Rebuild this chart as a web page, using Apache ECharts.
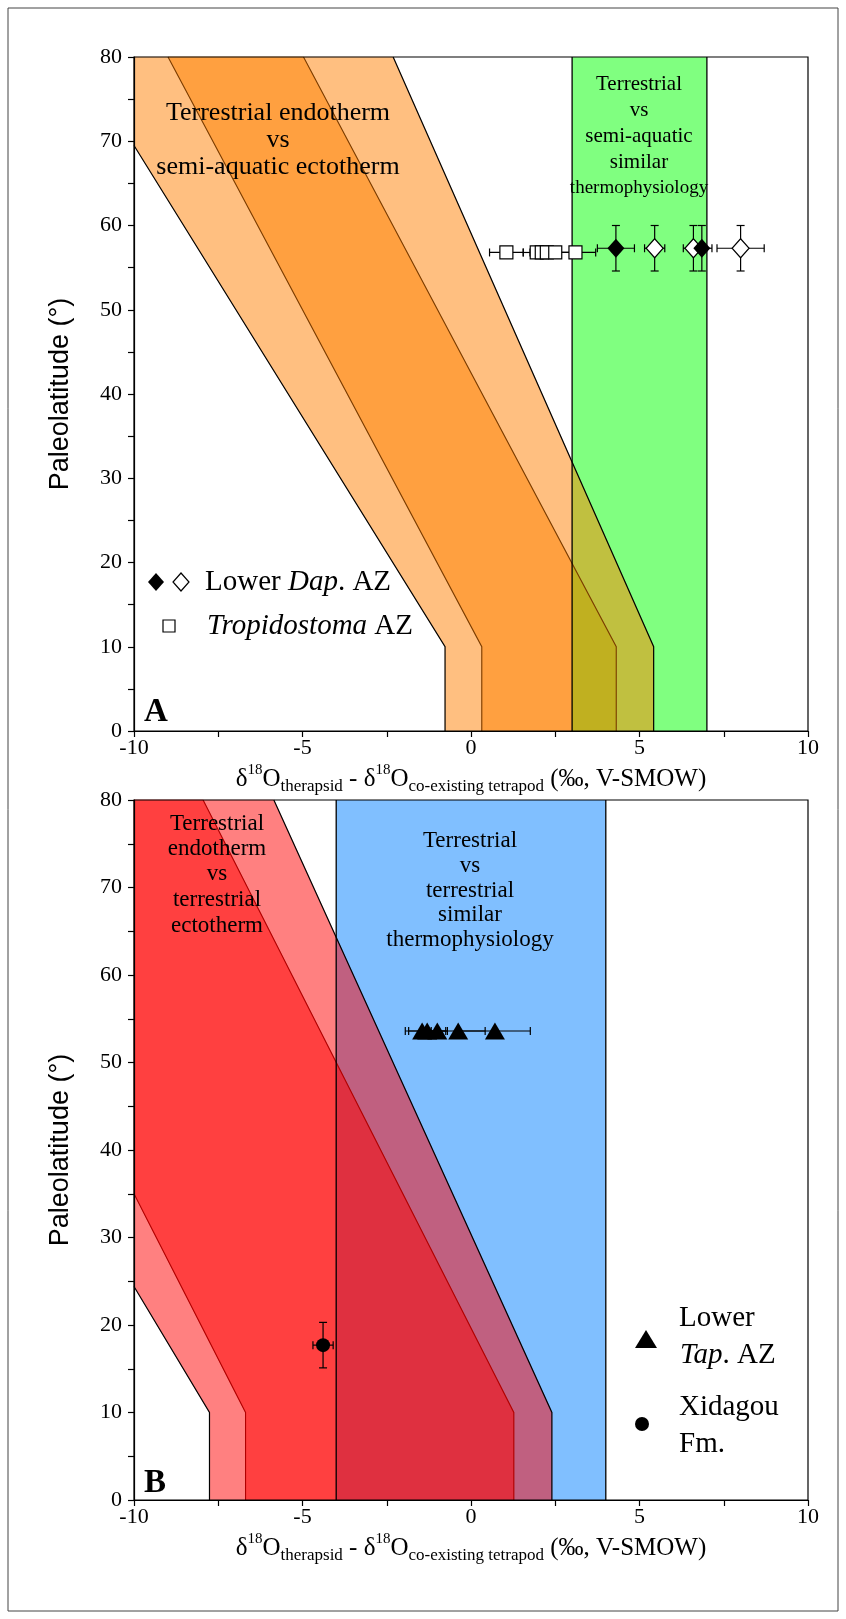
<!DOCTYPE html>
<html><head><meta charset="utf-8">
<script src="https://cdn.jsdelivr.net/npm/echarts@6/dist/echarts.min.js"></script>
<style>html,body{margin:0;padding:0;background:#fff}#c{width:846px;height:1619px}</style>
</head><body><div id="c"></div>
<script>
// ---------- axis settings ----------
const xMin = -10, xMax = 10, xStep = 5;
const yMin = 0, yMax = 80, yStep = 10;

// ---------- Panel A: bands (data coords: [offset ‰, latitude °]) ----------
const outerBandA = [[-10,80],[-10,69.5],[-0.77,10],[-0.77,0],[5.42,0],[5.42,10],[-2.31,80]];
const innerBandA = [[-8.99,80],[0.32,10],[0.32,0],[4.31,0],[4.31,10],[-4.97,80]];
const outerLinesA = [[[-10,69.5],[-0.77,10],[-0.77,0]], [[-2.31,80],[5.42,10],[5.42,0]]];
const innerLinesA = [[[-8.99,80],[0.32,10],[0.32,0]], [[-4.97,80],[4.31,10],[4.31,0]]];
const similarRangeA = [3, 7];

// ---------- Panel B: bands ----------
const outerBandB = [[-10,80],[-10,24.4],[-7.76,10],[-7.76,0],[2.40,0],[2.40,10],[-5.85,80]];
const innerBandB = [[-10,80],[-10,35],[-6.69,10],[-6.69,0],[1.27,0],[1.27,10],[-7.95,80]];
const outerLinesB = [[[-10,24.4],[-7.76,10],[-7.76,0]], [[-5.85,80],[2.40,10],[2.40,0]]];
const innerLinesB = [[[-10,35],[-6.69,10],[-6.69,0]], [[-7.95,80],[1.27,10],[1.27,0]]];
const similarRangeB = [-4, 4];

// ---------- Panel A points ----------
const dapFilledX = [4.30, 6.85];
const dapFilledY = [57.3, 57.3];
const dapFilledXErr = [0.55, 0.30];
const dapFilledYErr = [2.7, 2.7];
const dapOpenX = [5.45, 6.60, 8.00];
const dapOpenY = [57.3, 57.3, 57.3];
const dapOpenXErr = [0.30, 0.30, 0.70];
const dapOpenYErr = [2.7, 2.7, 2.7];
const tropX = [1.05, 1.95, 2.10, 2.25, 2.50, 3.10];
const tropY = [56.8, 56.8, 56.8, 56.8, 56.8, 56.8];
const tropXErr = [0.50, 0.40, 0.35, 0.30, 0.50, 0.60];

// ---------- Panel B points ----------
const tapX = [-1.45, -1.30, -1.00, -0.38, 0.71];
const tapY = [53.6, 53.6, 53.6, 53.6, 53.6];
const tapXErr = [0.50, 0.55, 0.30, 0.80, 1.05];
const xidX = [-4.39];
const xidY = [17.7];
const xidXErr = [0.30];
const xidYErr = [2.6];

// ---------- helpers ----------
function zipPts(xs, ys, xe, ye) {
  return xs.map((x, i) => [x, ys[i], xe ? xe[i] : 0, ye ? ye[i] : 0]);
}
function clipHalf(poly, inside, inter) {
  const res = [];
  for (let i = 0; i < poly.length; i++) {
    const cur = poly[i], prev = poly[(i + poly.length - 1) % poly.length];
    const ci = inside(cur), pi = inside(prev);
    if (ci) { if (!pi) res.push(inter(prev, cur)); res.push(cur); }
    else if (pi) res.push(inter(prev, cur));
  }
  return res;
}
function atX(a, b, x) { const t = (x - a[0]) / (b[0] - a[0]); return [x, a[1] + t * (b[1] - a[1])]; }
function clipX(poly, lo, hi) {
  let p = clipHalf(poly, q => q[0] >= lo, (a, b) => atX(a, b, lo));
  if (p.length) p = clipHalf(p, q => q[0] <= hi, (a, b) => atX(a, b, hi));
  return p;
}
function bandRenderer(cfg) {
  return function (params, api) {
    const px = pts => pts.map(p => api.coord(p));
    const ch = [];
    const [a, b] = cfg.range;
    ch.push({type:'polygon', shape:{points: px([[a,yMin],[a,yMax],[b,yMax],[b,yMin]])}, style:{fill: cfg.rangeColor}});
    [[cfg.outer, cfg.outerColor, cfg.outerOverlap], [cfg.inner, cfg.innerColor, cfg.innerOverlap]].forEach(([poly, c, oc]) => {
      const l = clipX(poly, -1e9, a), m = clipX(poly, a, b), r = clipX(poly, b, 1e9);
      [l, r].forEach(p => { if (p.length > 2) ch.push({type:'polygon', shape:{points: px(p)}, style:{fill: c, stroke: c, lineWidth: 0.5}}); });
      if (m.length > 2) ch.push({type:'polygon', shape:{points: px(m)}, style:{fill: oc, stroke: oc, lineWidth: 0.5}});
    });
    cfg.innerLines.forEach(l => ch.push({type:'polyline', shape:{points: px(l)}, style:{stroke: cfg.innerLineColor, lineWidth: 1.1, fill: null}}));
    cfg.outerLines.forEach(l => ch.push({type:'polyline', shape:{points: px(l)}, style:{stroke: '#000', lineWidth: 1.2, fill: null}}));
    [a, b].forEach(x => {
      const p1 = api.coord([x, yMin]), p2 = api.coord([x, yMax]);
      ch.push({type:'line', shape:{x1:p1[0], y1:p1[1], x2:p2[0], y2:p2[1]}, style:{stroke:'#000', lineWidth:1.3}});
    });
    return {type:'group', children: ch};
  };
}
function errRenderer(params, api) {
  const x = api.value(0), y = api.value(1), xe = api.value(2), ye = api.value(3);
  const ch = [], cap = 4;
  const st = {stroke:'#000', lineWidth:1.2};
  if (xe > 0) {
    const l = api.coord([x - xe, y]), r = api.coord([x + xe, y]);
    ch.push({type:'line', shape:{x1:l[0], y1:l[1], x2:r[0], y2:r[1]}, style: st});
    ch.push({type:'line', shape:{x1:l[0], y1:l[1]-cap, x2:l[0], y2:l[1]+cap}, style: st});
    ch.push({type:'line', shape:{x1:r[0], y1:r[1]-cap, x2:r[0], y2:r[1]+cap}, style: st});
  }
  if (ye > 0) {
    const t = api.coord([x, y + ye]), b = api.coord([x, y - ye]);
    ch.push({type:'line', shape:{x1:t[0], y1:t[1], x2:b[0], y2:b[1]}, style: st});
    ch.push({type:'line', shape:{x1:t[0]-cap, y1:t[1], x2:t[0]+cap, y2:t[1]}, style: st});
    ch.push({type:'line', shape:{x1:b[0]-cap, y1:b[1], x2:b[0]+cap, y2:b[1]}, style: st});
  }
  return {type:'group', children: ch};
}

const SERIF = 'Liberation Serif';
const SANS = 'Liberation Sans';
const tickFont = {fontFamily: SERIF, fontSize: 22, color: '#000'};

function makeX(gi) {
  return {gridIndex: gi, type:'value', min:xMin, max:xMax, interval:xStep, z: 10,
    axisLine:{show:true, onZero:false, lineStyle:{color:'#000', width:1.2}},
    axisTick:{show:true, inside:false, length:6, lineStyle:{color:'#000', width:1.2}},
    minorTick:{show:true, splitNumber:2, length:6, lineStyle:{color:'#000', width:1.2}},
    axisLabel:{...tickFont, margin:6},
    splitLine:{show:false}};
}
function makeY(gi) {
  return {gridIndex: gi, type:'value', min:yMin, max:yMax, interval:yStep, z: 10,
    name:'Paleolatitude (°)', nameLocation:'middle', nameGap:60, nameRotate:90,
    nameTextStyle:{fontFamily: SANS, fontSize: 27, color:'#000'},
    axisLine:{show:true, onZero:false, lineStyle:{color:'#000', width:1.2}},
    axisTick:{show:true, inside:false, length:6, lineStyle:{color:'#000', width:1.2}},
    minorTick:{show:true, splitNumber:2, length:6, lineStyle:{color:'#000', width:1.2}},
    axisLabel:{...tickFont, margin:12},
    splitLine:{show:false}};
}

const xTitleRich = {
  sup: {fontFamily: SERIF, fontSize: 15, verticalAlign: 'top', lineHeight: 32, fill:'#000'},
  sub: {fontFamily: SERIF, fontSize: 17, verticalAlign: 'bottom', lineHeight: 32, fill:'#000'},
  n: {fontFamily: SERIF, fontSize: 25, lineHeight: 32, fill:'#000'}
};
const xTitle = '{n|δ}{sup|18}{n|O}{sub|therapsid}{n| - δ}{sup|18}{n|O}{sub|co-existing tetrapod}{n| (‰, V-SMOW)}';

function txt(x, y, text, opts) {
  return {type:'text', x, y, z: 20, style: Object.assign({text, fontFamily: SERIF, fontSize: 23, fill:'#000', align:'center', verticalAlign:'middle'}, opts || {})};
}
const legRich = {n:{fontFamily:SERIF, fontSize:29, fill:'#000'}, i:{fontFamily:SERIF, fontSize:29, fontStyle:'italic', fill:'#000'}};

const chart = echarts.init(document.getElementById('c'), null, {renderer:'canvas'});
chart.setOption({
  animation: false,
  backgroundColor: '#fff',
  grid: [
    {left:134, top:57, width:674, height:674, show:true, borderColor:'#000', borderWidth:1.2, backgroundColor:'transparent', z:10},
    {left:134, top:800, width:674, height:700, show:true, borderColor:'#000', borderWidth:1.2, backgroundColor:'transparent', z:10}
  ],
  xAxis: [makeX(0), makeX(1)],
  yAxis: [makeY(0), makeY(1)],
  series: [
    {type:'custom', xAxisIndex:0, yAxisIndex:0, z:1, silent:true, data:[[0,0]],
      renderItem: bandRenderer({range: similarRangeA, rangeColor:'#80FF80',
        outer: outerBandA, outerColor:'#FFBF80', outerOverlap:'#C0C040',
        inner: innerBandA, innerColor:'#FFA040', innerOverlap:'#C0B020',
        outerLines: outerLinesA, innerLines: innerLinesA, innerLineColor:'#7A3C00'})},
    {type:'custom', xAxisIndex:1, yAxisIndex:1, z:1, silent:true, data:[[0,0]],
      renderItem: bandRenderer({range: similarRangeB, rangeColor:'#80BFFF',
        outer: outerBandB, outerColor:'#FF8080', outerOverlap:'#C06080',
        inner: innerBandB, innerColor:'#FF4040', innerOverlap:'#DF3040',
        outerLines: outerLinesB, innerLines: innerLinesB, innerLineColor:'#B00000'})},
    {type:'custom', xAxisIndex:0, yAxisIndex:0, z:3, silent:true, renderItem: errRenderer,
      data: zipPts(tropX, tropY, tropXErr, null).concat(zipPts(dapFilledX, dapFilledY, dapFilledXErr, dapFilledYErr), zipPts(dapOpenX, dapOpenY, dapOpenXErr, dapOpenYErr))},
    {type:'custom', xAxisIndex:1, yAxisIndex:1, z:3, silent:true, renderItem: errRenderer,
      data: zipPts(tapX, tapY, tapXErr, null).concat(zipPts(xidX, xidY, xidXErr, xidYErr))},
    {type:'scatter', name:'Tropidostoma AZ', xAxisIndex:0, yAxisIndex:0, z:4, symbol:'rect', symbolSize:13,
      itemStyle:{color:'#fff', borderColor:'#000', borderWidth:1.2, opacity:1}, data: tropX.map((x,i)=>[x, tropY[i]])},
    {type:'scatter', name:'Lower Dap. AZ (open)', xAxisIndex:0, yAxisIndex:0, z:4, symbol:'diamond', symbolSize:[17,19],
      itemStyle:{color:'#fff', borderColor:'#000', borderWidth:1.2, opacity:1}, data: dapOpenX.map((x,i)=>[x, dapOpenY[i]])},
    {type:'scatter', name:'Lower Dap. AZ (filled)', xAxisIndex:0, yAxisIndex:0, z:4, symbol:'diamond', symbolSize:[17,19],
      itemStyle:{color:'#000', opacity:1}, data: dapFilledX.map((x,i)=>[x, dapFilledY[i]])},
    {type:'scatter', name:'Lower Tap. AZ', xAxisIndex:1, yAxisIndex:1, z:4, symbol:'triangle', symbolSize:[20,17],
      itemStyle:{color:'#000', opacity:1}, data: tapX.map((x,i)=>[x, tapY[i]])},
    {type:'scatter', name:'Xidagou Fm.', xAxisIndex:1, yAxisIndex:1, z:4, symbol:'circle', symbolSize:14,
      itemStyle:{color:'#000', opacity:1}, data: xidX.map((x,i)=>[x, xidY[i]])}
  ],
  graphic: [
    {type:'rect', z:0, shape:{x:8, y:8, width:830, height:1603}, style:{fill:null, stroke:'#444', lineWidth:1}},
    // x axis titles
    {type:'text', x:471, y:779, z:20, style:{text: xTitle, rich: xTitleRich, align:'center', verticalAlign:'middle'}},
    {type:'text', x:471, y:1548, z:20, style:{text: xTitle, rich: xTitleRich, align:'center', verticalAlign:'middle'}},
    // panel A annotations
    txt(278, 113, 'Terrestrial endotherm', {fontSize:26}),
    txt(278, 140, 'vs', {fontSize:26}),
    txt(278, 167, 'semi-aquatic ectotherm', {fontSize:26}),
    txt(639, 84, 'Terrestrial', {fontSize:21}),
    txt(639, 110, 'vs', {fontSize:21}),
    txt(639, 136, 'semi-aquatic', {fontSize:21}),
    txt(639, 162, 'similar', {fontSize:21}),
    txt(639, 188, 'thermophysiology', {fontSize:19}),
    txt(144, 712, 'A', {fontSize: 33, fontWeight:'bold', align:'left'}),
    // panel A legend
    {type:'polygon', z:20, shape:{points:[[156,573],[164,582],[156,591],[148,582]]}, style:{fill:'#000'}},
    {type:'polygon', z:20, shape:{points:[[181,573],[189,582],[181,591],[173,582]]}, style:{fill:'#fff', stroke:'#000', lineWidth:1.2}},
    {type:'rect', z:20, shape:{x:163, y:620, width:12, height:12}, style:{fill:'#fff', stroke:'#000', lineWidth:1.2}},
    {type:'text', x:205, y:582, z:20, style:{text:'{n|Lower }{i|Dap}{n|. AZ}', align:'left', verticalAlign:'middle', rich: legRich}},
    {type:'text', x:207, y:626, z:20, style:{text:'{i|Tropidostoma}{n| AZ}', align:'left', verticalAlign:'middle', rich: legRich}},
    // panel B annotations
    txt(217, 824, 'Terrestrial'),
    txt(217, 849, 'endotherm'),
    txt(217, 874, 'vs'),
    txt(217, 900, 'terrestrial'),
    txt(217, 926, 'ectotherm'),
    txt(470, 841, 'Terrestrial'),
    txt(470, 866, 'vs'),
    txt(470, 891, 'terrestrial'),
    txt(470, 915, 'similar'),
    txt(470, 940, 'thermophysiology'),
    txt(144, 1483, 'B', {fontSize: 33, fontWeight:'bold', align:'left'}),
    // panel B legend
    {type:'polygon', z:20, shape:{points:[[646,1330],[657,1348],[635,1348]]}, style:{fill:'#000'}},
    {type:'circle', z:20, shape:{cx:642, cy:1424, r:7}, style:{fill:'#000'}},
    txt(679, 1318, 'Lower', {align:'left', fontSize:29}),
    {type:'text', x:680, y:1355, z:20, style:{text:'{i|Tap}{n|. AZ}', align:'left', verticalAlign:'middle', rich: legRich}},
    txt(679, 1407, 'Xidagou', {align:'left', fontSize:29}),
    txt(679, 1444, 'Fm.', {align:'left', fontSize:29})
  ]
});
</script>
</body></html>
